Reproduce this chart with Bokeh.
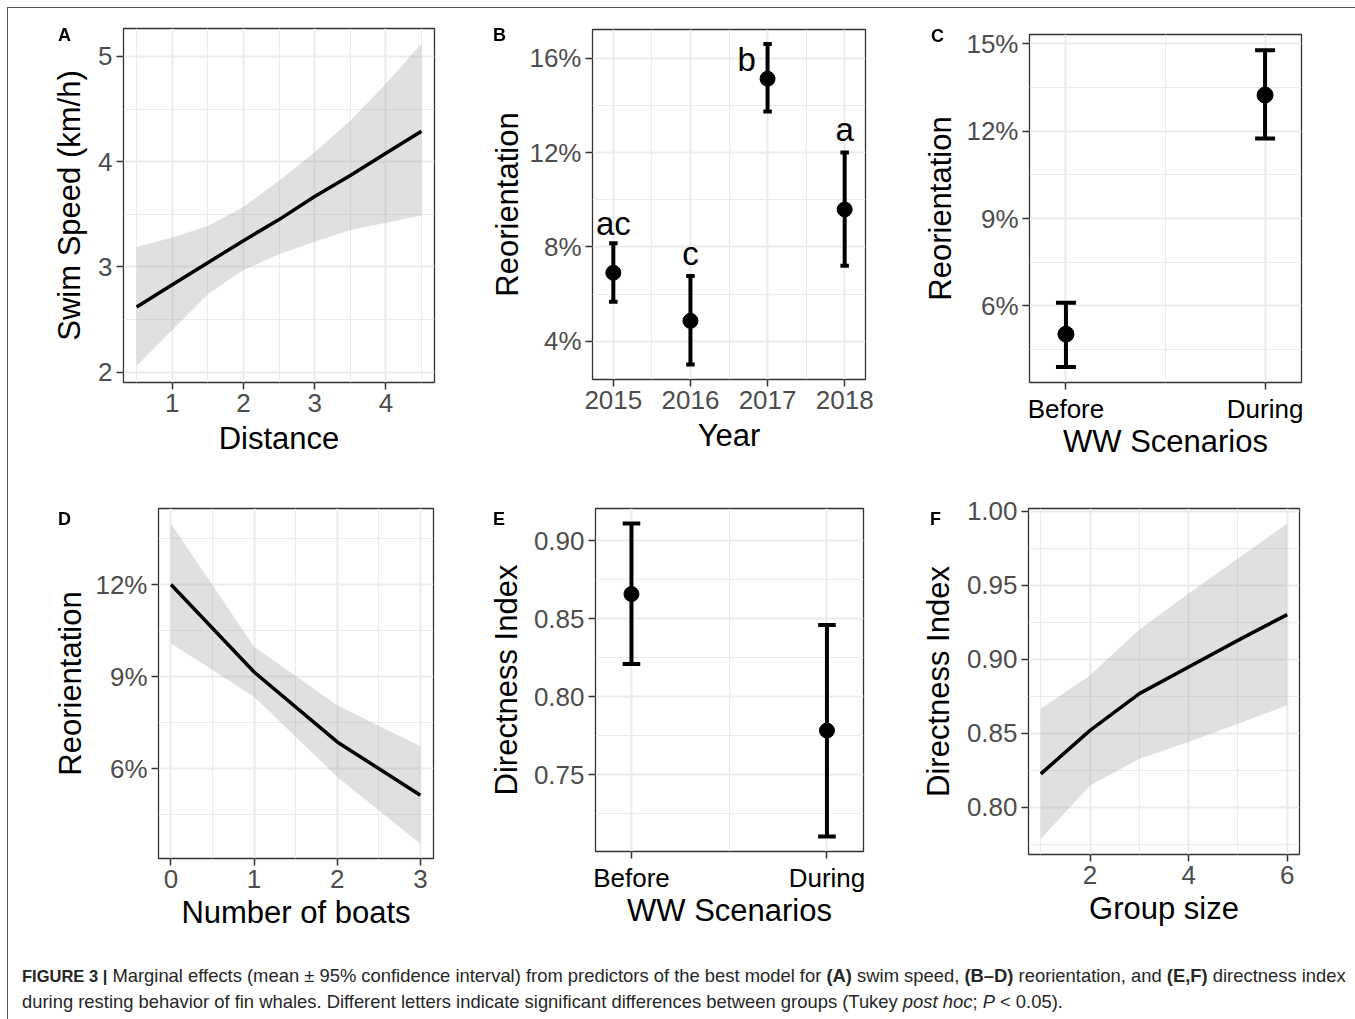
from bokeh.plotting import figure
from bokeh.layouts import row, column
from bokeh.models import Range1d, FixedTicker, PrintfTickFormatter, Div
from bokeh.embed import file_html
from bokeh.resources import INLINE

FONT = "Liberation Sans"

# ---------------- data ----------------
# A: swim speed vs distance
a_x = [0.5, 1.0, 1.5, 2.0, 2.5, 3.0, 3.5, 4.0, 4.5]
a_fit = [2.62, 2.83, 3.04, 3.25, 3.45, 3.67, 3.87, 4.08, 4.29]
a_upper = [3.19, 3.28, 3.39, 3.57, 3.82, 4.09, 4.39, 4.74, 5.12]
a_lower = [2.06, 2.40, 2.74, 2.97, 3.12, 3.24, 3.35, 3.42, 3.49]
a_xticks = [1, 2, 3, 4]
a_yticks = [2, 3, 4, 5]

# B: reorientation by year (%)
b_year = [2015, 2016, 2017, 2018]
b_mean = [6.90, 4.86, 15.14, 9.59]
b_low = [5.67, 3.01, 13.75, 7.20]
b_high = [8.15, 6.76, 16.61, 12.01]
b_letters = ["ac", "c", "b", "a"]
b_letter_x = [2015, 2016, 2016.73, 2018]
b_letter_y = [8.57, 7.30, 15.54, 12.56]
b_yticks = [4, 8, 12, 16]

# C: reorientation by WW scenario (%)
scen_x = [1, 2]
scen_labels = ["Before", "During"]
c_mean = [5.03, 13.24]
c_low = [3.90, 11.75]
c_high = [6.11, 14.78]
c_yticks = [6, 9, 12, 15]

# D: reorientation vs number of boats (%)
d_boats = [0, 1, 2, 3]
d_fit = [12.00, 9.15, 6.87, 5.13]
d_upper = [13.99, 9.97, 8.07, 6.73]
d_lower = [10.08, 8.34, 5.73, 3.55]
d_yticks = [6, 9, 12]

# E: directness index by WW scenario
e_mean = [0.8658, 0.7782]
e_low = [0.8209, 0.7103]
e_high = [0.9111, 0.8459]
e_yticks = [0.75, 0.80, 0.85, 0.90]

# F: directness index vs group size
f_size = [1, 2, 3, 4, 5, 6]
f_fit = [0.8225, 0.8519, 0.8767, 0.8947, 0.9127, 0.9301]
f_upper = [0.8665, 0.8891, 0.9200, 0.9443, 0.9680, 0.9917]
f_lower = [0.7786, 0.8147, 0.8327, 0.8440, 0.8564, 0.8688]
f_xticks = [2, 4, 6]
f_yticks = [0.80, 0.85, 0.90, 0.95, 1.00]

panel_letters = ["A", "B", "C", "D", "E", "F"]


def mids(t):
    return [(t[i] + t[i + 1]) / 2 for i in range(len(t) - 1)]


def make_fig(w, h, left, right, top, bottom, xr, yr, xticks, xminor, yticks, yminor,
             xlabel, ylabel, yfmt=None, xover=None, xlab_color="#4d4d4d", ystand=5, xstand=4):
    p = figure(width=w, height=h, output_backend="svg", toolbar_location=None,
               x_range=Range1d(*xr), y_range=Range1d(*yr),
               min_border_left=left, min_border_right=right,
               min_border_top=top, min_border_bottom=bottom)
    p.frame_align = False
    p.background_fill_color = "white"
    p.border_fill_color = "white"
    p.outline_line_color = "#333333"
    p.outline_line_width = 1.3
    p.xaxis.ticker = FixedTicker(ticks=xticks, minor_ticks=xminor)
    p.yaxis.ticker = FixedTicker(ticks=yticks, minor_ticks=yminor)
    if yfmt:
        p.yaxis.formatter = PrintfTickFormatter(format=yfmt)
    if xover:
        p.xaxis.major_label_overrides = xover
    for ax in (p.xaxis, p.yaxis):
        ax.axis_line_color = None
        ax.major_tick_out = 7
        ax.major_tick_in = 0
        ax.major_tick_line_color = "#333333"
        ax.major_tick_line_width = 1.5
        ax.minor_tick_line_color = None
        ax.major_label_text_font = FONT
        ax.major_label_text_font_size = "26px"
        ax.major_label_text_color = "#4d4d4d"
        ax.major_label_standoff = 4
        ax.axis_label_text_font = FONT
        ax.axis_label_text_font_size = "31px"
        ax.axis_label_text_font_style = "normal"
        ax.axis_label_text_color = "black"
    p.xaxis.major_label_text_color = xlab_color
    p.xaxis.axis_label = xlabel
    p.yaxis.axis_label = ylabel
    p.xaxis.axis_label_standoff = xstand
    p.yaxis.axis_label_standoff = ystand
    for g in (p.xgrid, p.ygrid):
        g.grid_line_color = "#ebebeb"
        g.grid_line_width = 2
        g.minor_grid_line_color = "#ebebeb"
        g.minor_grid_line_width = 1
    return p


def errorbars(p, xs, mean, lo, hi, cap, size):
    p.segment(x0=xs, y0=lo, x1=xs, y1=hi, line_color="black", line_width=4)
    p.segment(x0=[x - cap / 2 for x in xs], y0=hi, x1=[x + cap / 2 for x in xs], y1=hi,
              line_color="black", line_width=4)
    p.segment(x0=[x - cap / 2 for x in xs], y0=lo, x1=[x + cap / 2 for x in xs], y1=lo,
              line_color="black", line_width=4)
    p.scatter(xs, mean, size=size, color="black")


# ---------------- panel A ----------------
pA = make_fig(442, 462, 115, 16, 20, 88, (0.316, 4.683), (1.902, 5.266),
              a_xticks, [0.5] + mids(a_xticks) + [4.5], a_yticks, mids(a_yticks),
              "Distance", "Swim Speed (km/h)", ystand=8, xstand=6)
pA.varea(x=a_x, y1=a_lower, y2=a_upper, fill_color="#999999", fill_alpha=0.3)
pA.line(a_x, a_fit, line_color="black", line_width=3.5)

# ---------------- panel B ----------------
pB = make_fig(450, 462, 142, 35, 21, 91, (2014.73, 2018.27), (2.37, 17.23),
              b_year, mids(b_year), b_yticks, mids(b_yticks),
              "Year", "Reorientation", yfmt="%d%%", ystand=1, xstand=6)
pB.xaxis.formatter = PrintfTickFormatter(format="%d")
errorbars(pB, b_year, b_mean, b_low, b_high, 0.11, 15)
pB.text(x=b_letter_x, y=b_letter_y, text=b_letters, text_font_size="33px",
        text_align="center", text_baseline="alphabetic", text_color="black",
        y_offset=-10, text_font={"value": FONT})

# ---------------- panel C ----------------
pC = make_fig(447, 462, 129, 46, 26, 88, (0.817, 2.183), (3.37, 15.32),
              scen_x, mids(scen_x), c_yticks, [4.5] + mids(c_yticks),
              "WW Scenarios", "Reorientation", yfmt="%d%%",
              xover={x: l for x, l in zip(scen_x, scen_labels)}, xlab_color="black",
              ystand=5, xstand=-3)
errorbars(pC, scen_x, c_mean, c_low, c_high, 0.1, 16)

# ---------------- panel D ----------------
pD = make_fig(442, 470, 150, 17, 38, 82, (-0.15, 3.158), (3.07, 14.48),
              d_boats, mids(d_boats), d_yticks, [4.5] + mids(d_yticks) + [13.5],
              "Number of boats", "Reorientation", yfmt="%d%%", ystand=4)
pD.varea(x=d_boats, y1=d_lower, y2=d_upper, fill_color="#999999", fill_alpha=0.3)
pD.line(d_boats, d_fit, line_color="black", line_width=3.5)

# ---------------- panel E ----------------
pE = make_fig(450, 470, 145, 37, 38, 89, (0.816, 2.187), (0.7006, 0.9207),
              scen_x, mids(scen_x), e_yticks, [0.725] + mids(e_yticks) + [0.925],
              "WW Scenarios", "Directness Index", yfmt="%.2f",
              xover={x: l for x, l in zip(scen_x, scen_labels)}, xlab_color="black",
              ystand=7, xstand=-3)
errorbars(pE, scen_x, e_mean, e_low, e_high, 0.09, 15)

# ---------------- panel F ----------------
pF = make_fig(447, 470, 128, 48, 38, 86, (0.75, 6.25), (0.768, 1.0018),
              f_xticks, [1] + mids(f_xticks), f_yticks, [0.775] + mids(f_yticks),
              "Group size", "Directness Index", yfmt="%.2f", ystand=8)
pF.varea(x=f_size, y1=f_lower, y2=f_upper, fill_color="#999999", fill_alpha=0.3)
pF.line(f_size, f_fit, line_color="black", line_width=3.5)

# panel letters (page positions, px)
letter_pos = [(58, 26), (493, 26), (931, 27), (58, 510), (493, 510), (930, 510)]
letters_html = "".join(
    '<span style="position:fixed; left:%dpx; top:%dpx; font-family:\'Liberation Sans\', Arial, sans-serif; '
    'font-weight:bold; font-size:18px; line-height:18px; color:#000;">%s</span>' % (lx, ly, t)
    for t, (lx, ly) in zip(panel_letters, letter_pos))

caption = Div(width=1347, height=70, text=(
    letters_html +
    '<div style="padding:18px 0 0 9px; font-family:\'Liberation Sans\', Arial, sans-serif; '
    'font-size:18.4px; line-height:26px; color:#262626; white-space:nowrap;">'
    '<b style="font-size:16.5px;">FIGURE 3 |</b> Marginal effects (mean &plusmn; 95% confidence interval) from predictors of the '
    'best model for <b>(A)</b> swim speed, <b>(B&ndash;D)</b> reorientation, and <b>(E,F)</b> directness index<br>'
    'during resting behavior of fin whales. Different letters indicate significant differences between '
    'groups (Tukey <i>post hoc</i>; <i>P</i> &lt; 0.05).</div>'))

layout = column(row(pA, pB, pC), row(pD, pE, pF), caption, margin=(7, 0, 0, 7),
                styles={"border-top": "1px solid #555555", "border-left": "1px solid #555555"})

open("out.html", "w").write(file_html(layout, INLINE))
